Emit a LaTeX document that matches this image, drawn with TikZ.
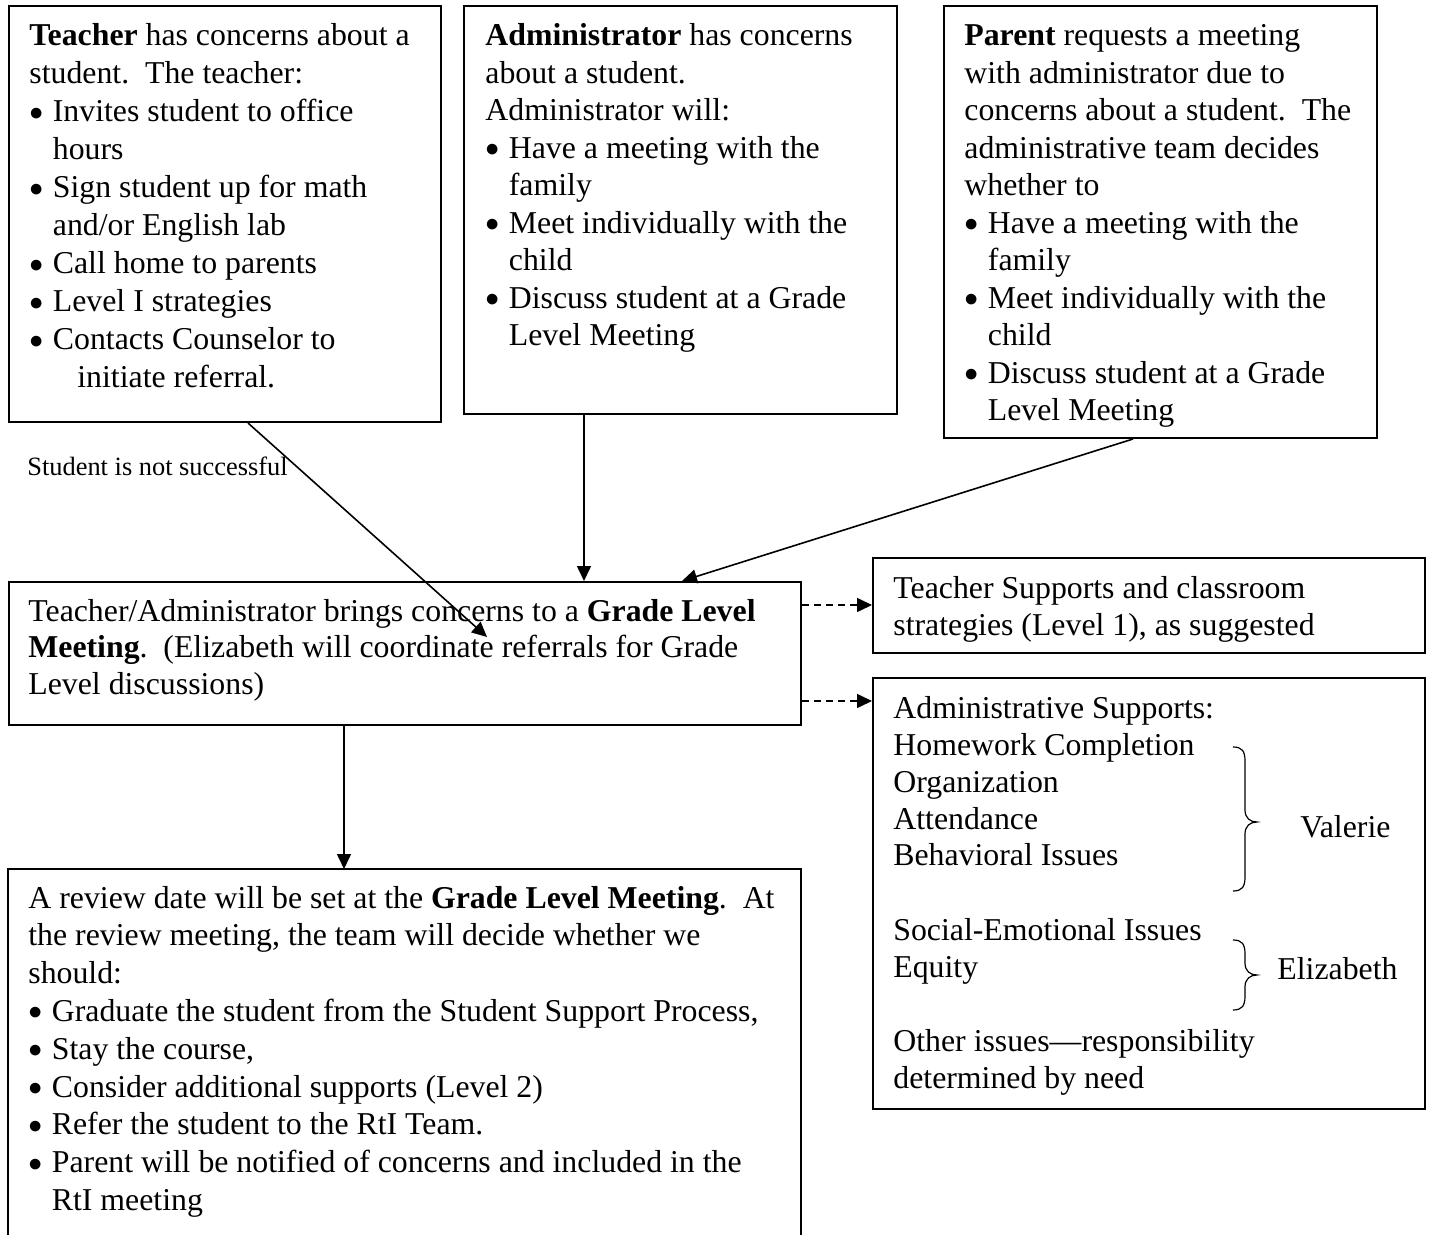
\documentclass[tikz,border=0pt]{standalone}
\usepackage{fontspec}
\usepackage{graphicx}
\setmainfont{Liberation Serif}
\usetikzlibrary{arrows.meta}
\newcommand\setfs[1]{\fontsize{15.9pt}{#1}\selectfont}
\newcommand\bl{\makebox[11.75pt][l]{\raisebox{0.05em}{\scalebox{0.8}{$\bullet$}}}}
\newcommand\ci{\makebox[11.75pt]{}}
\newcommand\rbr[4]{\draw[line width=0.6pt] (#1,#2) .. controls ({#1+9},{#2}) and ({#1+12},{#2+4}) .. ({#1+12},{#2+14}) -- ({#1+12},{#3-12}) .. controls ({#1+12},{#3-4}) and ({#1+17},{#3}) .. ({#1+24},{#3}) .. controls ({#1+17},{#3}) and ({#1+12},{#3+4}) .. ({#1+12},{#3+12}) -- ({#1+12},{#4-14}) .. controls ({#1+12},{#4-4}) and ({#1+9},{#4}) .. (#1,#4);}
\begin{document}
\begin{tikzpicture}[x=0.5pt,y=-0.5pt,
  box/.style={draw, line width=1pt, inner sep=0pt, anchor=north west},
  txt/.style={anchor=base west, inner sep=0pt},
  arr/.style={line width=0.8pt, -{Triangle[length=7.5pt,width=7pt]}},
  darr/.style={arr, dash pattern=on 3.5pt off 2.5pt}]
\useasboundingbox (0,0) rectangle (1430,1235);
\fill[white] (0,0) rectangle (1430,1235);

% boxes
\node[box, minimum width=216pt, minimum height=208pt] (teacher) at (8,5) {};
\node[box, minimum width=216.5pt, minimum height=204pt] (admin) at (463,5) {};
\node[box, minimum width=216.5pt, minimum height=216pt] (parent) at (943,5) {};
\node[box, minimum width=396pt, minimum height=71.5pt] (grade) at (8,581) {};
\node[box, minimum width=276pt, minimum height=47.5pt] (ts) at (872,557) {};
\node[box, minimum width=276pt, minimum height=215.5pt] (as) at (872,677) {};
\node[anchor=north west, inner sep=0pt, minimum width=396pt, minimum height=200pt] (review) at (8,869) {};
\draw[line width=1pt] (review.south west) -- (review.north west) -- (review.north east) -- (review.south east);

% texts
\node[txt, font=\setfs{19pt}] (tT) at (29,46) {\begin{tabular}[t]{@{}l@{}}
\textbf{Teacher} has concerns about a\\
student.\ \ The teacher:\\
\bl Invites student to office\\
\ci hours\\
\bl Sign student up for math\\
\ci and/or English lab\\
\bl Call home to parents\\
\bl Level I strategies\\
\bl Contacts Counselor to\\
\makebox[24pt]{}initiate referral.
\end{tabular}};

\node[txt, font=\setfs{18.75pt}] (aT) at (485,46) {\begin{tabular}[t]{@{}l@{}}
\textbf{Administrator} has concerns\\
about a student.\\
Administrator will:\\
\bl Have a meeting with the\\
\ci family\\
\bl Meet individually with the\\
\ci child\\
\bl Discuss student at a Grade\\
\ci Level Meeting
\end{tabular}};

\node[txt, font=\setfs{18.75pt}] (pT) at (964,46) {\begin{tabular}[t]{@{}l@{}}
\textbf{Parent} requests a meeting\\
with administrator due to\\
concerns about a student.\ \ The\\
administrative team decides\\
whether to\\
\bl Have a meeting with the\\
\ci family\\
\bl Meet individually with the\\
\ci child\\
\bl Discuss student at a Grade\\
\ci Level Meeting
\end{tabular}};

\node[txt, font=\setfs{18.3pt}] (gT) at (28,621) {\begin{tabular}[t]{@{}l@{}}
Teacher/Administrator brings concerns to a \textbf{Grade Level}\\
\textbf{Meeting}.\ \ (Elizabeth will coordinate referrals for Grade\\
Level discussions)
\end{tabular}};

\node[txt, font=\setfs{18.5pt}] (tsT) at (893,598) {\begin{tabular}[t]{@{}l@{}}
Teacher Supports and classroom\\
strategies (Level 1), as suggested
\end{tabular}};

\node[txt, font=\setfs{18.5pt}] (asT) at (893,718) {\begin{tabular}[t]{@{}l@{}}
Administrative Supports:\\
Homework Completion\\
Organization\\
Attendance\\
Behavioral Issues\\
\\
Social-Emotional Issues\\
Equity\\
\\
Other issues—responsibility\\
determined by need
\end{tabular}};

\node[txt, font=\setfs{18.9pt}] (rT) at (28,908) {\begin{tabular}[t]{@{}l@{}}
A review date will be set at the \textbf{Grade Level Meeting}.\ \ At\\
the review meeting, the team will decide whether we\\
should:\\
\bl Graduate the student from the Student Support Process,\\
\bl Stay the course,\\
\bl Consider additional supports (Level 2)\\
\bl Refer the student to the RtI Team.\\
\bl Parent will be notified of concerns and included in the\\
\ci RtI meeting
\end{tabular}};

\node[txt, font=\setfs{19pt}] (val) at (1300,837) {Valerie};
\node[txt, font=\setfs{19pt}] (eliz) at (1277,979) {Elizabeth};
\node[txt, font=\fontsize{13.2pt}{15pt}\selectfont] (lbl) at (27,476) {Student is not successful};

% braces
\rbr{1233}{747}{822}{891}
\rbr{1233}{940}{975}{1010}

% connectors
\coordinate (tA) at ([xshift=120pt]teacher.south west);
\coordinate (gA) at ([xshift=239.5pt,yshift=-28pt]grade.north west);
\draw[arr] (tA) -- (gA);
\coordinate (aA) at ([xshift=60.5pt]admin.south west);
\draw[arr] (aA) -- (aA |- grade.north);
\coordinate (pA) at ([xshift=95pt]parent.south west);
\coordinate (gP) at ([xshift=337pt]grade.north west);
\draw[arr] (pA) -- (gP);
\coordinate (gD) at ([xshift=168pt]grade.south west);
\draw[arr] (gD) -- (gD |- review.north);
\coordinate (gT1) at ([yshift=-12pt]grade.north east);
\draw[darr] (gT1) -- (gT1 -| ts.west);
\coordinate (gS1) at ([yshift=-60pt]grade.north east);
\draw[darr] (gS1) -- (gS1 -| as.west);
\end{tikzpicture}
\end{document}
